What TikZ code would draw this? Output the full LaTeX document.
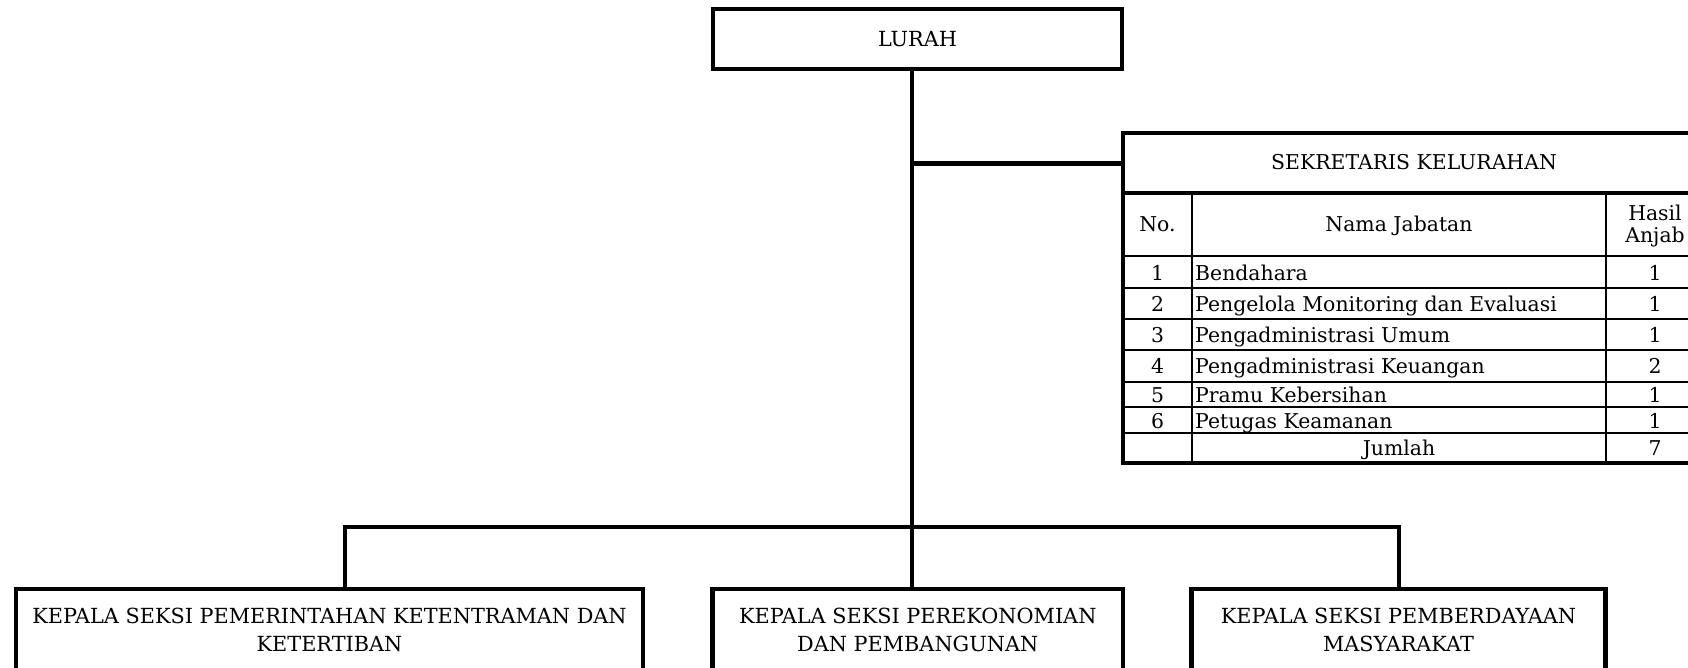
\documentclass[tikz,border=0pt]{standalone}
\usepackage{fontspec}
\setmainfont{DejaVu Serif}
\newcommand\fntBox{\fontsize{20.8pt}{27.5pt}\selectfont}
\newcommand\fntTab{\fontsize{20.4pt}{22.5pt}\selectfont}
\begin{document}
\begin{tikzpicture}[x=1pt,y=-1pt,
  thickline/.style={line width=4.3pt},
  thinline/.style={line width=1.8pt},
  unit/.style={draw, line width=4.3pt, inner sep=0pt, align=center, font=\fntBox},
  cell/.style={inner sep=0pt, font=\fntTab},
]
\useasboundingbox (0,0) rectangle (1688,668);
\clip (0,0) rectangle (1688,668);
\fill[white] (0,0) rectangle (1688,668);

% units
\node[unit, minimum width=409pt, minimum height=60pt] (lurah) at (917.5,39) {LURAH};
\node[unit, minimum width=627pt, minimum height=82pt] (seksiA) at (329.5,630) {KEPALA SEKSI PEMERINTAHAN KETENTRAMAN DAN\\KETERTIBAN};
\node[unit, minimum width=410.5pt, minimum height=82pt] (seksiB) at (917.75,630) {KEPALA SEKSI PEREKONOMIAN\\DAN PEMBANGUNAN};
\node[unit, minimum width=414pt, minimum height=82pt] (seksiC) at (1398.5,630) {KEPALA SEKSI PEMBERDAYAAN\\MASYARAKAT};

% secretary table
\node[draw, line width=4.3pt, inner sep=0pt, minimum width=582pt, minimum height=330pt] (sek) at (1414,298) {};
\foreach \yy in {256,288,319,350,382,407,433}
  \draw[thinline] (1123,\yy) -- (1705,\yy);
\foreach \xx in {1192,1606}
  \draw[thinline] (\xx,193) -- (\xx,463);
\draw[thickline] (sek.west |- 0,193) -- (sek.east |- 0,193);

\node[cell, anchor=base] (hdr) at (1414,170) {SEKRETARIS KELURAHAN};
\node[cell, anchor=base] (hno) at (1157.5,231.5) {No.};
\node[cell, anchor=base] (hnama) at (1399,231.5) {Nama Jabatan};
\node[cell, align=center] (hhasil) at (1655,226) {Hasil\\Anjab};

\foreach \n/\name/\val/\yy in {
  1/Bendahara/1/280,
  2/Pengelola Monitoring dan Evaluasi/1/311,
  3/Pengadministrasi Umum/1/342,
  4/Pengadministrasi Keuangan/2/373,
  5/Pramu Kebersihan/1/402,
  6/Petugas Keamanan/1/428}{
  \node[cell, anchor=base] (no\n) at (1157.5,\yy) {\n};
  \node[cell, anchor=base west] (nm\n) at (1195,\yy) {\name};
  \node[cell, anchor=base] (hs\n) at (1655,\yy) {\val};
}
\node[cell, anchor=base] (jml) at (1399,455) {Jumlah};
\node[cell, anchor=base] (tot) at (1655,455) {7};

% connectors
\coordinate (busA) at (345,527);
\coordinate (busB) at (912,527);
\coordinate (busC) at (1399,527);
\coordinate (sekJ) at (912,163.5);
\draw[thickline] (lurah.south -| busB) -- (seksiB.north -| busB);
\draw[thickline] (seksiA.north -| busA) -- (busA) -- (busC) -- (seksiC.north -| busC);
\draw[thickline] (sekJ) -- (sekJ -| sek.west);
\end{tikzpicture}
\end{document}
